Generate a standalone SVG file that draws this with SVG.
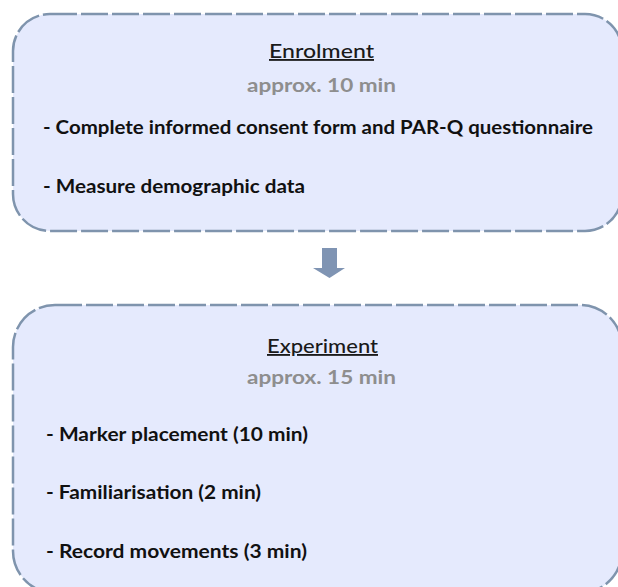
<svg xmlns="http://www.w3.org/2000/svg" width="618" height="587" viewBox="0 0 618 587">
  <defs>
    <style>
      .box { fill: #e5eafd; stroke: #7f94ad; stroke-width: 2.5; stroke-dasharray: 27 4; }
      .title { font-family: Lato, "Liberation Sans", sans-serif; font-size: 18.5px; font-weight: 500; fill: #1a1a1a; text-decoration: underline; }
      .dur { font-family: Lato, "Liberation Sans", sans-serif; font-size: 19px; font-weight: 700; fill: #8e8e8e; }
      .item { font-family: Lato, "Liberation Sans", sans-serif; font-size: 18px; font-weight: 700; fill: #111111; }
      .arrow { fill: #7f94b3; }
    </style>
  </defs>
  <rect width="618" height="587" fill="#ffffff"/>
  <g id="enrolment">
    <rect class="box" x="13" y="14" width="609" height="217" rx="37" ry="37"/>
    <text class="title" x="269" y="58" textLength="105" lengthAdjust="spacingAndGlyphs">Enrolment</text>
    <text class="dur" x="247" y="92" textLength="149" lengthAdjust="spacingAndGlyphs">approx. 10 min</text>
    <text class="item" x="43" y="134" textLength="550" lengthAdjust="spacingAndGlyphs">- Complete informed consent form and PAR-Q questionnaire</text>
    <text class="item" x="43" y="193" textLength="262" lengthAdjust="spacingAndGlyphs">- Measure demographic data</text>
  </g>
  <g id="connectors">
    <path class="arrow" d="M322,248 H337 V268 H345 L329.5,278 L313,268 H322 Z"/>
  </g>
  <g id="experiment">
    <rect class="box" x="13" y="305" width="609" height="288" rx="42" ry="42"/>
    <text class="title" x="267" y="353" textLength="111" lengthAdjust="spacingAndGlyphs">Experiment</text>
    <text class="dur" x="247" y="384" textLength="149" lengthAdjust="spacingAndGlyphs">approx. 15 min</text>
    <text class="item" x="46" y="441" textLength="262" lengthAdjust="spacingAndGlyphs">- Marker placement (10 min)</text>
    <text class="item" x="46" y="499" textLength="215" lengthAdjust="spacingAndGlyphs">- Familiarisation (2 min)</text>
    <text class="item" x="46" y="558" textLength="261" lengthAdjust="spacingAndGlyphs">- Record movements (3 min)</text>
  </g>
</svg>
